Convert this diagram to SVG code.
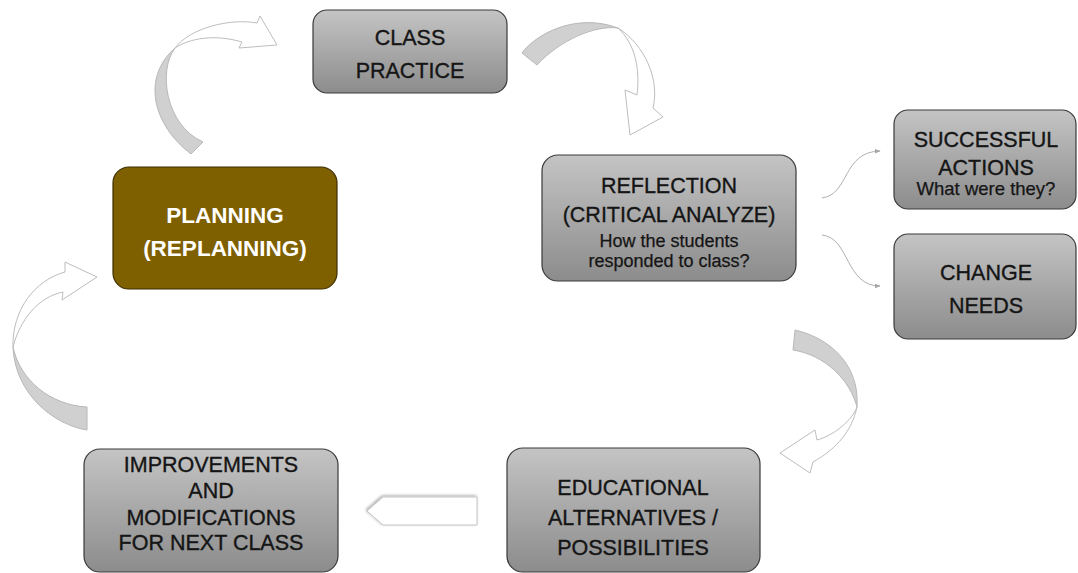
<svg xmlns="http://www.w3.org/2000/svg" width="1078" height="573" viewBox="0 0 1078 573">
  <defs>
    <linearGradient id="greyFill" x1="0" y1="0" x2="0" y2="1">
      <stop offset="0" stop-color="#c4c4c4"/>
      <stop offset="1" stop-color="#8c8c8c"/>
    </linearGradient>
    <filter id="softShadow" x="-20%" y="-30%" width="140%" height="160%">
      <feGaussianBlur in="SourceAlpha" stdDeviation="1.5"/>
      <feOffset dx="-1" dy="-1" result="b"/>
      <feComponentTransfer><feFuncA type="linear" slope="0.35"/></feComponentTransfer>
      <feMerge><feMergeNode/><feMergeNode in="SourceGraphic"/></feMerge>
    </filter>
    <marker id="thinHead" viewBox="0 0 10 10" refX="9" refY="5" markerWidth="6" markerHeight="6" orient="auto" markerUnits="userSpaceOnUse">
      <path d="M0,1 L10,5 L0,9 Z" fill="#a6a6a6"/>
    </marker>
    <style>
      .box { fill: url(#greyFill); stroke: #3a3a3a; stroke-width: 1.2; }
      .plan { fill: #7f6000; stroke: #3d2e00; stroke-width: 1.2; }
      .t { font-family: "Liberation Sans", Arial, sans-serif; fill: #151515; stroke: #151515; stroke-width: 0.35px; text-anchor: middle; }
      .big { font-size: 21.5px; }
      .small { font-size: 18px; stroke-width: 0.25px; }
      .white { fill: #ffffff; stroke: none; font-weight: bold; font-size: 22.5px; }
      .band { fill: #d0d0d0; stroke: #b8b8b8; stroke-width: 1; }
      .head { fill: #ffffff; stroke: #bdbdbd; stroke-width: 1; }
      .thin { fill: none; stroke: #b0b0b0; stroke-width: 1; }
    </style>
  </defs>

  <rect width="1078" height="573" fill="#ffffff"/>

  <!-- connectors -->
  <g id="connectors">
    <!-- planning to class practice -->
    <g id="arrow-plan-practice">
      <path class="band" d="M191,154 C153,125 141,78 175,48 C158,70 165,125 203,142 Z"/>
      <path class="head" d="M175,48 C190,28 230,18 257,23 L260,16 L277,45 L239,48 L242,42 C215,34 190,38 175,48 Z"/>
    </g>
    <!-- class practice to reflection -->
    <g id="arrow-practice-reflection">
      <path class="band" d="M522,53 C535,35 575,12 618,28 C595,25 560,40 537,65 Z"/>
      <path class="head" d="M618,28 C645,45 660,80 653,108 L663,117 L630,135 L625,90 L637,95 C640,70 636,45 618,28 Z"/>
    </g>
    <!-- reflection to alternatives -->
    <g id="arrow-reflection-alternatives">
      <path class="band" d="M795,330 C830,338 860,365 857,407 C850,380 825,355 793,350 Z"/>
      <path class="head" d="M857,407 C852,430 838,448 813,462 L810,473 L780,453 L815,430 L817,440 C835,435 852,420 857,407 Z"/>
    </g>
    <!-- alternatives to improvements -->
    <polygon id="arrow-alternatives-improvements" points="367,511 383,497 477,497 477,525 383,525" fill="#ffffff" stroke="#c4c4c4" stroke-width="1" filter="url(#softShadow)"/>
    <!-- improvements to planning -->
    <g id="arrow-improvements-plan">
      <path class="band" d="M87,430 C55,425 15,395 13,347 C20,380 50,405 87,407 Z"/>
      <path class="head" d="M13,347 C12,310 35,280 65,272 L65,262 L97,277 L62,300 L63,292 C38,297 20,320 13,347 Z"/>
    </g>
    <!-- reflection outcomes -->
    <path class="thin" d="M822,198 C850,194 842,152 880,151" marker-end="url(#thinHead)"/>
    <path class="thin" d="M822,235 C850,238 845,286 880,286" marker-end="url(#thinHead)"/>
  </g>

  <g id="node-class-practice">
    <rect class="box" x="313" y="10" width="194" height="83" rx="14"/>
    <text class="t big" x="410" y="45">CLASS</text>
    <text class="t big" x="410" y="78">PRACTICE</text>
  </g>

  <g id="node-planning">
    <rect class="plan" x="113" y="167" width="224" height="122" rx="16"/>
    <text class="t white" x="225" y="223">PLANNING</text>
    <text class="t white" x="225" y="256">(REPLANNING)</text>
  </g>

  <g id="node-reflection">
    <rect class="box" x="542" y="155" width="254" height="126" rx="16"/>
    <text class="t big" x="669" y="193">REFLECTION</text>
    <text class="t big" x="669" y="222">(CRITICAL ANALYZE)</text>
    <text class="t small" x="669" y="247">How the students</text>
    <text class="t small" x="669" y="267">responded to class?</text>
  </g>

  <g id="node-successful-actions">
    <rect class="box" x="894" y="110" width="182" height="99" rx="14"/>
    <text class="t big" x="986" y="147">SUCCESSFUL</text>
    <text class="t big" x="986" y="175">ACTIONS</text>
    <text class="t small" x="986" y="195" style="font-size:18.5px">What were they?</text>
  </g>

  <g id="node-change-needs">
    <rect class="box" x="894" y="234" width="182" height="105" rx="14"/>
    <text class="t big" x="986" y="280">CHANGE</text>
    <text class="t big" x="986" y="313">NEEDS</text>
  </g>

  <g id="node-alternatives">
    <rect class="box" x="507" y="448" width="253" height="124" rx="16"/>
    <text class="t big" x="633" y="495">EDUCATIONAL</text>
    <text class="t big" x="633" y="525">ALTERNATIVES /</text>
    <text class="t big" x="633" y="555">POSSIBILITIES</text>
  </g>

  <g id="node-improvements">
    <rect class="box" x="84" y="449" width="254" height="123" rx="16"/>
    <text class="t big" x="211" y="472">IMPROVEMENTS</text>
    <text class="t big" x="211" y="498">AND</text>
    <text class="t big" x="211" y="525">MODIFICATIONS</text>
    <text class="t big" x="211" y="550">FOR NEXT CLASS</text>
  </g>
</svg>
